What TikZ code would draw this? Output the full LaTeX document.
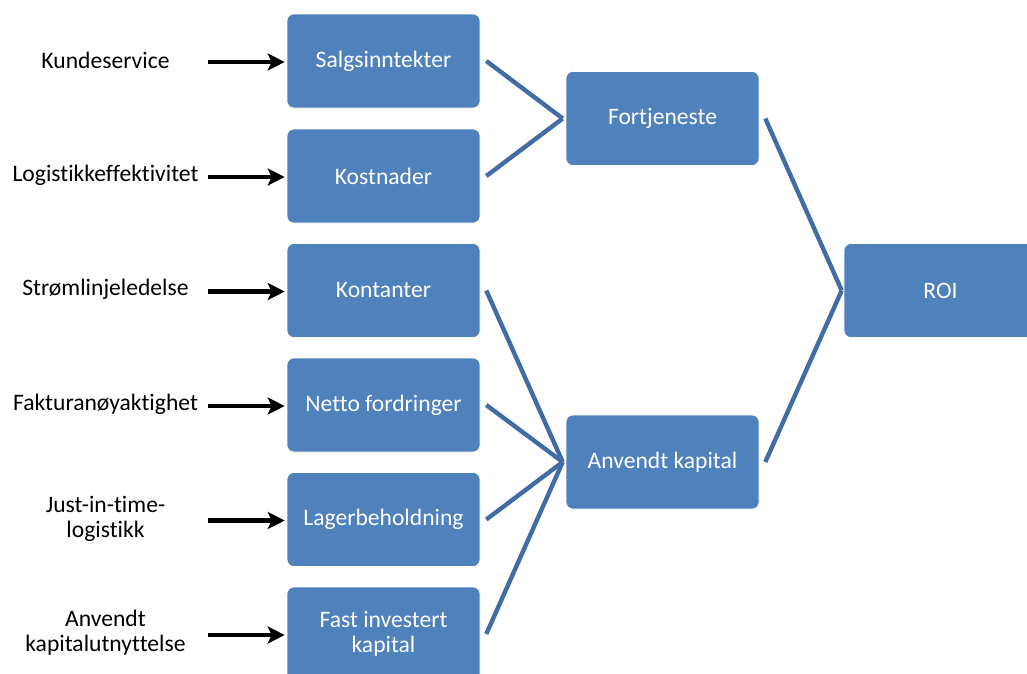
\documentclass[tikz,border=0pt]{standalone}
\usepackage{fontspec}
\setmainfont{Carlito}[Ligatures=NoCommon]
\usetikzlibrary{arrows.meta,calc}
\definecolor{boxblue}{HTML}{4F81BD}
\definecolor{linkblue}{HTML}{416CA5}
\tikzset{
  box/.style={rectangle, rounded corners=7pt, fill=boxblue, draw=white, line width=0.6pt,
    minimum width=193pt, minimum height=94pt, inner sep=2pt, text=white, align=center,
    font=\fontsize{23.6}{25}\selectfont},
  lbl/.style={align=center, inner sep=0pt, font=\fontsize{23.6}{25}\selectfont},
  feed/.style={draw=black, line width=4.5pt,
    -{Stealth[length=17pt,width=17pt,inset=4pt]}},
  link/.style={draw=linkblue, line width=4.4pt}
}
\begin{document}
\begin{tikzpicture}[x=1pt,y=-1pt]
\useasboundingbox (0,0) rectangle (1027,673);
\clip (0,0) rectangle (1027,673);

% first column of driver boxes
\node[box] (sal) at (383.5,61)  {Salgsinntekter};
\node[box] (kos) at (383.5,176) {Kostnader};
\node[box] (kon) at (383.5,290.5) {Kontanter};
\node[box] (net) at (383.5,405) {Netto fordringer};
\node[box] (lag) at (383.5,519.5) {Lagerbeholdning};
\node[box] (fas) at (383.5,634) {Fast investert\\kapital};

% aggregates
\node[box] (fort) at (662.5,118.5) {Fortjeneste};
\node[box] (anv)  at (662.5,462)   {Anvendt kapital};
\node[box] (roi)  at (940.5,290.5) {ROI};

% levers on the left
\node[lbl] (l1) at (105.5,60)  {Kundeservice};
\node[lbl] (l2) at (105.5,175) {Logistikkeffektivitet};
\node[lbl] (l3) at (105.5,289.5) {Strømlinjeledelse};
\node[lbl] (l4) at (105.5,404) {Fakturanøyaktighet};
\node[lbl] (l5) at (105.5,518.5) {Just-in-time-\\logistikk};
\node[lbl] (l6) at (105.5,633) {Anvendt\\kapitalutnyttelse};

% lever arrows
\foreach \b in {sal,kos,kon,net,lag,fas}
  \draw[feed] ([xshift=-79pt,yshift=-1pt]\b.west) -- ([xshift=-2pt,yshift=-1pt]\b.west);

% links into the aggregates
\coordinate (fin) at ($(fort.west)+(-3pt,0)$);
\coordinate (ain) at ($(anv.west)+(-3pt,0)$);
\coordinate (rin) at ($(roi.west)+(-2pt,0)$);
\foreach \b in {sal,kos}
  \draw[link] ($(\b.east)+(6pt,0)$) -- (fin);
\foreach \b in {kon,net,lag,fas}
  \draw[link] ($(\b.east)+(6pt,0)$) -- (ain);
\draw[link] ($(fort.east)+(6pt,0)$) -- (rin);
\draw[link] ($(anv.east)+(6pt,0)$) -- (rin);
\end{tikzpicture}
\end{document}
